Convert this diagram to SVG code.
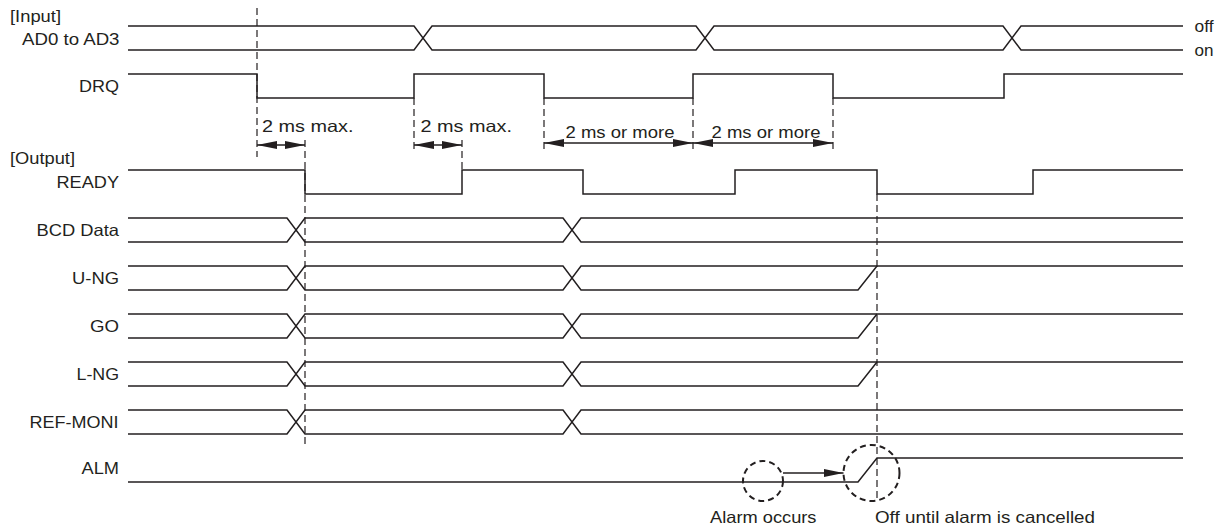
<svg xmlns="http://www.w3.org/2000/svg" width="1221" height="528" viewBox="0 0 1221 528">
<style>
text{font-family:"Liberation Sans",Arial,Helvetica,sans-serif;font-size:16.5px;fill:#231f20}
.sig{fill:none;stroke:#231f20;stroke-width:1.5;stroke-linejoin:miter}
.dash{fill:none;stroke:#231f20;stroke-width:1.2;stroke-dasharray:7 4}
.circ{fill:none;stroke:#231f20;stroke-width:2;stroke-dasharray:6 4}
.dim{fill:none;stroke:#231f20;stroke-width:1.5}
</style>
<defs>
<marker id="ah" viewBox="0 0 20 8" refX="20" refY="4" markerWidth="20" markerHeight="8" markerUnits="userSpaceOnUse" orient="auto-start-reverse">
<path d="M0,0 L20,4 L0,8 z" fill="#231f20"/>
</marker>
</defs>
<rect width="1221" height="528" fill="#ffffff"/>

<g id="labels">
<text x="10" y="22" textLength="51" lengthAdjust="spacingAndGlyphs">[Input]</text>
<text x="10" y="164" textLength="65" lengthAdjust="spacingAndGlyphs">[Output]</text>
</g>

<g id="sig-ad">
<text x="22" y="44.5" textLength="97.5" lengthAdjust="spacingAndGlyphs">AD0 to AD3</text>
<path class="sig" d="M128,26 H414 L432,50 H696 L714,26 H1003 L1021,50 H1183"/>
<path class="sig" d="M128,50 H414 L432,26 H696 L714,50 H1003 L1021,26 H1183"/>
<text x="1194.5" y="31.5" textLength="19" lengthAdjust="spacingAndGlyphs">off</text>
<text x="1194.5" y="55.5" textLength="19" lengthAdjust="spacingAndGlyphs">on</text>
</g>

<g id="sig-drq">
<text x="79" y="92" textLength="40" lengthAdjust="spacingAndGlyphs">DRQ</text>
<path class="sig" d="M128,74 H257 V98 H414 V74 H544 V98 H693 V74 H833 V98 H1004 V74 H1183"/>
</g>

<g id="sig-ready">
<text x="56.5" y="188" textLength="62.5" lengthAdjust="spacingAndGlyphs">READY</text>
<path class="sig" d="M128,170 H305 V194 H462 V170 H583 V194 H735 V170 H877 V194 H1033 V170 H1183"/>
</g>

<g id="sig-bcd">
<text x="36.5" y="236" textLength="82.5" lengthAdjust="spacingAndGlyphs">BCD Data</text>
<path class="sig" d="M128,218 H287 L305,242 H563 L581,218 H1183"/>
<path class="sig" d="M128,242 H287 L305,218 H563 L581,242 H1183"/>
</g>

<g id="sig-ung">
<text x="72" y="284" textLength="47" lengthAdjust="spacingAndGlyphs">U-NG</text>
<path class="sig" d="M128,266 H287 L305,290 H563 L581,266 H1183"/>
<path class="sig" d="M128,290 H287 L305,266 H563 L581,290 H858 L877,266"/>
</g>

<g id="sig-go">
<text x="90" y="332" textLength="29" lengthAdjust="spacingAndGlyphs">GO</text>
<path class="sig" d="M128,314 H287 L305,338 H563 L581,314 H1183"/>
<path class="sig" d="M128,338 H287 L305,314 H563 L581,338 H858 L877,314"/>
</g>

<g id="sig-lng">
<text x="76.5" y="380" textLength="42.5" lengthAdjust="spacingAndGlyphs">L-NG</text>
<path class="sig" d="M128,362 H287 L305,386 H563 L581,362 H1183"/>
<path class="sig" d="M128,386 H287 L305,362 H563 L581,386 H858 L877,362"/>
</g>

<g id="sig-refmoni">
<text x="29.5" y="428" textLength="89" lengthAdjust="spacingAndGlyphs">REF-MONI</text>
<path class="sig" d="M128,410 H287 L305,434 H563 L581,410 H1183"/>
<path class="sig" d="M128,434 H287 L305,410 H563 L581,434 H1183"/>
</g>

<g id="sig-alm">
<text x="81.5" y="474" textLength="37.5" lengthAdjust="spacingAndGlyphs">ALM</text>
<path class="sig" d="M128,482 H858 L877,458 H1183"/>
</g>

<g id="alarm-occurs">
<circle class="circ" cx="763" cy="481" r="20"/>
<text x="710" y="523" textLength="106.5" lengthAdjust="spacingAndGlyphs">Alarm occurs</text>
</g>

<g id="alarm-off">
<circle class="circ" cx="871.5" cy="473" r="28"/>
<text x="875" y="523" textLength="220" lengthAdjust="spacingAndGlyphs">Off until alarm is cancelled</text>
</g>

<g id="connectors">
<path class="dash" d="M257,8 V157"/>
<path class="dash" d="M305,140 V448"/>
<path class="dash" d="M414,98 V153"/>
<path class="dash" d="M462,140 V170"/>
<path class="dash" d="M544,98 V153"/>
<path class="dash" d="M693,98 V153"/>
<path class="dash" d="M833,98 V153"/>
<path class="dash" d="M877,194 V498"/>

<path class="dim" d="M257,145 H305" marker-start="url(#ah)" marker-end="url(#ah)"/>
<path class="dim" d="M414,145 H462" marker-start="url(#ah)" marker-end="url(#ah)"/>
<path class="dim" d="M544,143 H693" marker-start="url(#ah)" marker-end="url(#ah)"/>
<path class="dim" d="M693,143 H833" marker-start="url(#ah)" marker-end="url(#ah)"/>
<path class="dim" d="M783,473 H843.5" marker-end="url(#ah)"/>

<text x="262" y="131.5" textLength="91.5" lengthAdjust="spacingAndGlyphs">2 ms max.</text>
<text x="420.5" y="131.5" textLength="91.5" lengthAdjust="spacingAndGlyphs">2 ms max.</text>
<text x="565.5" y="137.5" textLength="109" lengthAdjust="spacingAndGlyphs">2 ms or more</text>
<text x="711.5" y="137.5" textLength="109" lengthAdjust="spacingAndGlyphs">2 ms or more</text>
</g>
</svg>
